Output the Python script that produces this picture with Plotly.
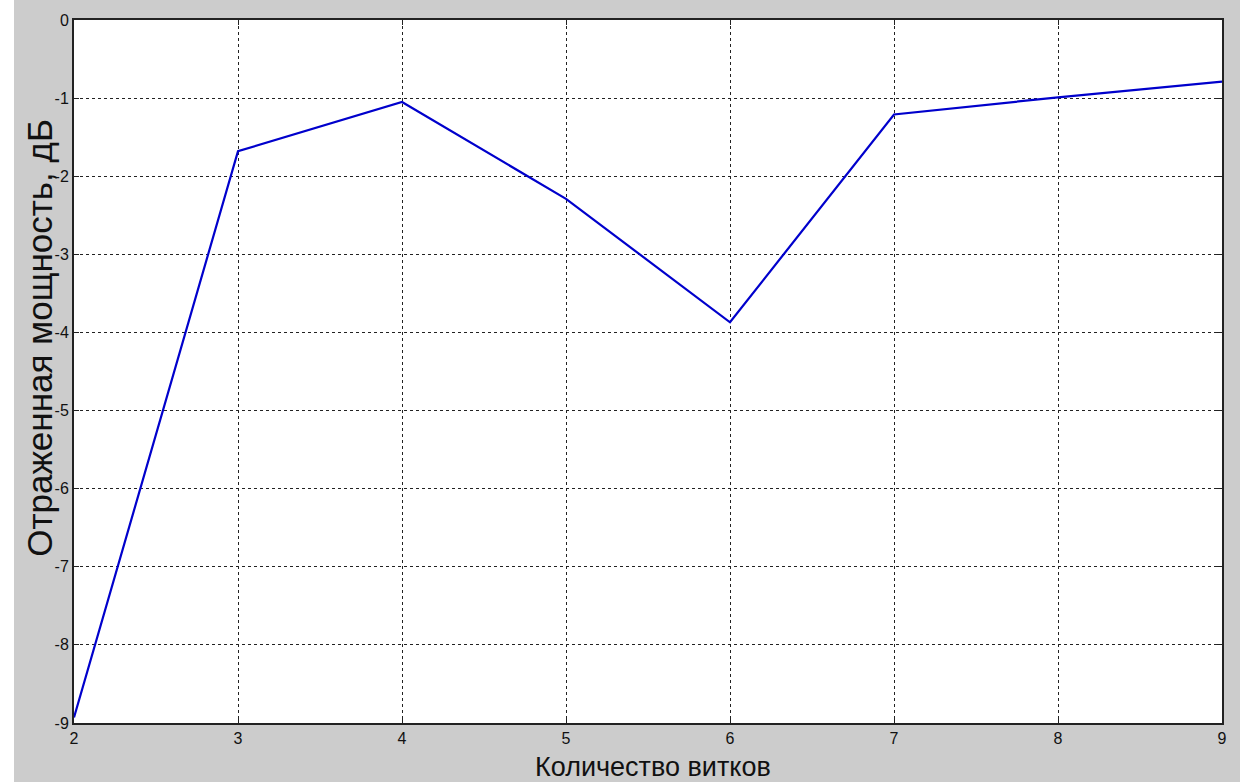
import plotly.graph_objects as go

turns = [2, 3, 4, 5, 6, 7, 8, 9]
reflected_db = [-8.93, -1.68, -1.05, -2.29, -3.87, -1.21, -0.99, -0.79]
x_ticks = [2, 3, 4, 5, 6, 7, 8, 9]
y_ticks = [0, -1, -2, -3, -4, -5, -6, -7, -8, -9]

fig = go.Figure()
fig.add_trace(go.Scatter(x=turns, y=reflected_db, mode="lines",
                         line=dict(color="#0000cc", width=2.2), showlegend=False))

W, H = 1240, 782
L, R, T, B = 74, 18, 15, 59
pw = W - L - R
ph = H - T - B

tick_font = dict(family="Liberation Sans Narrow, Arial Narrow, Liberation Sans, Arial", size=16, color="#111111")
axis_common = dict(showgrid=True, gridcolor="#222222", griddash="dot", gridwidth=1,
                   zeroline=False, showline=True, linecolor="#222222", linewidth=2,
                   mirror="ticks", ticks="inside", ticklen=5, tickcolor="#222222",
                   tickfont=tick_font)

fig.update_layout(
    width=W, height=H,
    margin=dict(l=L, r=R, t=T, b=B),
    paper_bgcolor="#cccccc", plot_bgcolor="white",
    xaxis=dict(range=[2, 9], tickvals=x_ticks, ticktext=[str(v) for v in x_ticks], **axis_common),
    yaxis=dict(range=[-9, 0], tickvals=y_ticks, ticktext=[str(v) for v in y_ticks], **axis_common),
    shapes=[dict(type="rect", xref="paper", yref="paper",
                 x0=-L / pw, x1=-(L - 14) / pw, y0=-2, y1=2,
                 fillcolor="white", line=dict(width=0), layer="below")],
    annotations=[
        dict(text="Количество витков", xref="paper", yref="paper",
             x=(653 - L) / pw, y=-(767 - T - ph) / ph, xanchor="center", yanchor="middle",
             showarrow=False,
             font=dict(family="Liberation Sans Narrow, Arial Narrow, Liberation Sans", size=27, color="#111111")),
        dict(text="Отраженная мощность, дБ", xref="paper", yref="paper",
             x=-(L - 40) / pw, y=1 - (335 - T) / ph, xanchor="center", yanchor="middle",
             textangle=-90, showarrow=False,
             font=dict(family="Liberation Sans, Arial", size=35, color="#111111")),
    ],
)

fig.write_html("out.html", config={"displayModeBar": False},
               post_script="document.body.style.margin='0';document.body.style.overflow='hidden';")
